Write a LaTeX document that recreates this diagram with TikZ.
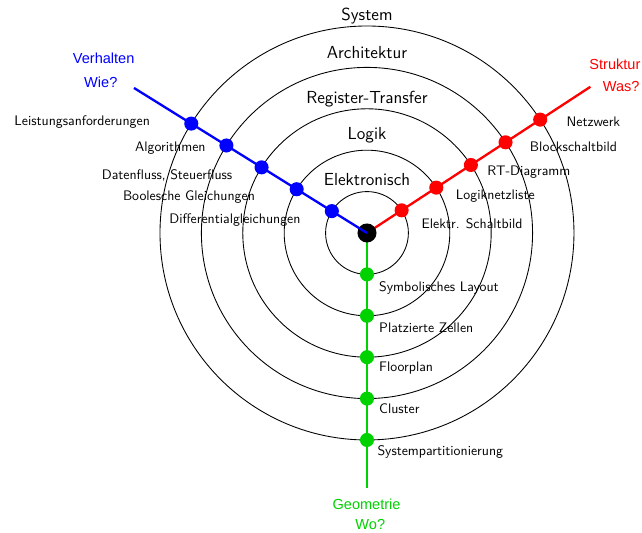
\documentclass[tikz,border=0pt]{standalone}
\usepackage{fontspec}
\newfontfamily\axisfont{Liberation Sans}
\definecolor{geogreen}{RGB}{0,210,0}
\tikzset{
  dot/.style={circle,fill,inner sep=0pt,minimum size=0.34cm},
  levellabel/.style={anchor=base,font=\sffamily\large},
  itemlabel/.style={font=\sffamily\fontsize{9.5}{11}\selectfont},
  axislabel/.style={anchor=base,font=\axisfont\fontsize{10}{12}\selectfont}
}
\begin{document}
\begin{tikzpicture}
	\useasboundingbox (-8.865,-7.246) rectangle (6.643,5.628);
	\coordinate (center) at (0,0);
	\coordinate (verhEnd) at (148.1:6.63);
	\coordinate (strEnd) at (33.2:6.45);
	\coordinate (geoEnd) at (0,-6.16);
	% Abstraktionsebenen
	\foreach \r/\y/\name in {1/1.14/Elektronisch,2/2.25/Logik,3/3.13/Register-Transfer,4/4.22/Architektur,5/5.13/System} {
		\draw[line width=0.6pt] (center) circle (\r);
		\node[levellabel] (level\r) at (0,\y) {\name};
	}
	% Achsen
	\draw[red,line width=1.6pt] (center) -- (strEnd);
	\draw[geogreen,line width=1.6pt] (center) -- (geoEnd);
	\foreach \r in {1,...,5} {
		\node[dot,red] (s\r) at (33.2:\r) {};
		\node[dot,geogreen] (g\r) at (270:\r) {};
		\node[dot,blue] (v\r) at (148.1:\r) {};
	}
	\node[dot,black,minimum size=0.46cm] (mid) at (center) {};
	\draw[blue,line width=1.6pt] (center) -- (verhEnd);
	% Verhalten
	\node[itemlabel] (v5lab) at (-6.88,2.69) {Leistungsanforderungen};
	\node[itemlabel] (v4lab) at (-4.75,2.06) {Algorithmen};
	\node[itemlabel] (v3lab) at (-4.83,1.40) {Datenfluss, Steuerfluss};
	\node[itemlabel] (v2lab) at (-4.30,0.86) {Boolesche Gleichungen};
	\node[itemlabel] (v1lab) at (-3.19,0.31) {Differentialgleichungen};
	% Struktur
	\node[itemlabel] (s5lab) at (5.47,2.69) {Netzwerk};
	\node[itemlabel] (s4lab) at (4.99,2.08) {Blockschaltbild};
	\node[itemlabel] (s3lab) at (3.91,1.46) {RT-Diagramm};
	\node[itemlabel] (s2lab) at (3.10,0.88) {Logiknetzliste};
	\node[itemlabel] (s1lab) at (2.54,0.22) {Elektr. Schaltbild};
	% Geometrie
	\node[itemlabel,anchor=west] (g1lab) at (0.17,-1.34) {Symbolisches Layout};
	\node[itemlabel,anchor=west] (g2lab) at (0.17,-2.28) {Platzierte Zellen};
	\node[itemlabel,anchor=west] (g3lab) at (0.17,-3.27) {Floorplan};
	\node[itemlabel,anchor=west] (g4lab) at (0.17,-4.25) {Cluster};
	\node[itemlabel,anchor=west] (g5lab) at (0.13,-5.30) {Systempartitionierung};
	% Achsenbeschriftungen
	\node[axislabel,blue] (verhalten) at (-6.36,4.10) {Verhalten};
	\node[axislabel,blue] (wie) at (-6.43,3.52) {Wie?};
	\node[axislabel,red] (struktur) at (5.99,3.96) {Struktur};
	\node[axislabel,red] (was) at (6.14,3.41) {Was?};
	\node[axislabel,geogreen] (geometrie) at (-0.01,-6.69) {Geometrie};
	\node[axislabel,geogreen] (wo) at (0.08,-7.17) {Wo?};
\end{tikzpicture}
\end{document}
